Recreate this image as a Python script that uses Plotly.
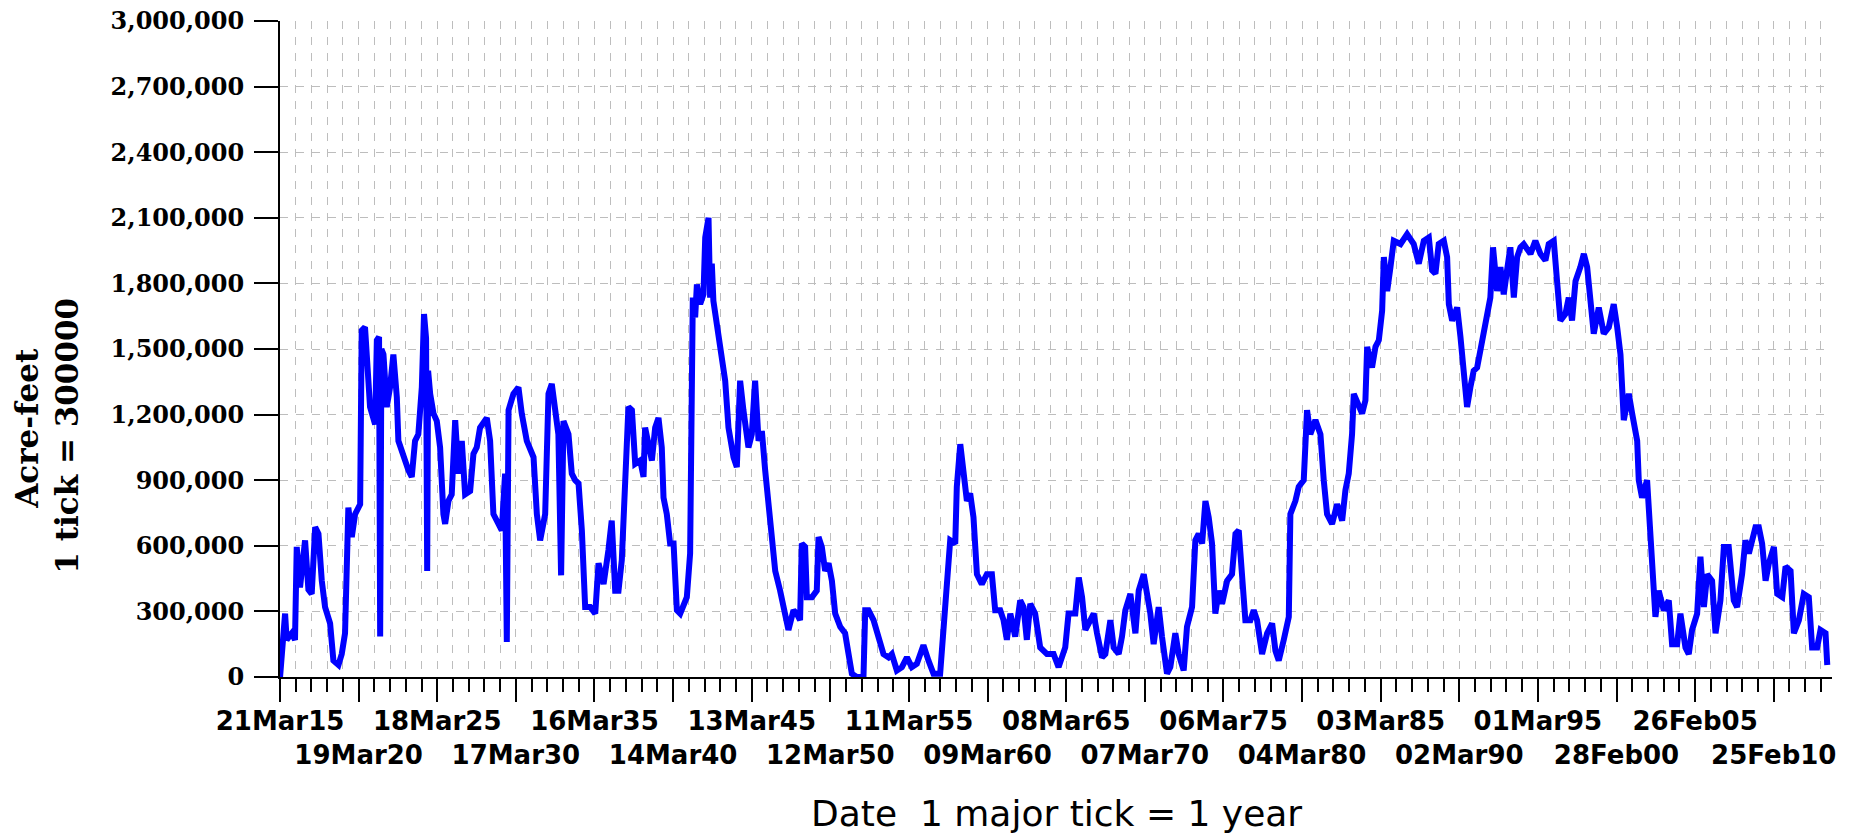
import datetime as dt
import plotly.graph_objects as go

# ---- data (decimal year, storage in thousand acre-feet) ----
years = [
    1915.22, 1915.54, 1915.64, 1915.96, 1916.17, 1916.28, 1916.49, 1916.81, 1917.02, 1917.23,
    1917.45, 1917.66, 1917.87, 1918.08, 1918.40, 1918.61, 1918.93, 1919.14, 1919.35, 1919.46,
    1919.56, 1919.78, 1919.99, 1920.31, 1920.41, 1920.62, 1920.84, 1920.94, 1921.26, 1921.37,
    1921.51, 1921.58, 1921.66, 1921.79, 1922.00, 1922.21, 1922.42, 1922.64, 1922.74, 1923.06,
    1923.38, 1923.59, 1923.80, 1924.01, 1924.23, 1924.37, 1924.50, 1924.57, 1924.63, 1924.76,
    1924.97, 1925.18, 1925.39, 1925.60, 1925.71, 1925.92, 1926.13, 1926.35, 1926.56, 1926.77,
    1926.98, 1927.30, 1927.51, 1927.72, 1927.93, 1928.36, 1928.57, 1928.78, 1929.10, 1929.31,
    1929.52, 1929.63, 1929.74, 1930.05, 1930.37, 1930.58, 1930.90, 1931.33, 1931.54, 1931.75,
    1932.07, 1932.28, 1932.49, 1932.70, 1932.91, 1933.08, 1933.23, 1933.55, 1933.76, 1933.97,
    1934.19, 1934.40, 1934.61, 1934.93, 1935.25, 1935.46, 1935.78, 1936.09, 1936.30, 1936.52,
    1936.73, 1936.94, 1937.15, 1937.36, 1937.58, 1937.79, 1938.11, 1938.32, 1938.42, 1938.64,
    1938.85, 1939.06, 1939.27, 1939.48, 1939.59, 1939.80, 1940.01, 1940.23, 1940.44, 1940.65,
    1940.86, 1941.07, 1941.28, 1941.39, 1941.45, 1941.60, 1941.71, 1941.92, 1942.13, 1942.24,
    1942.45, 1942.55, 1942.66, 1942.76, 1942.98, 1943.19, 1943.51, 1943.72, 1944.04, 1944.25,
    1944.46, 1944.67, 1944.99, 1945.20, 1945.41, 1945.63, 1945.84, 1946.05, 1946.26, 1946.47,
    1946.69, 1947.00, 1947.32, 1947.53, 1947.85, 1948.06, 1948.27, 1948.38, 1948.59, 1948.70,
    1949.02, 1949.33, 1949.44, 1949.65, 1949.86, 1950.08, 1950.29, 1950.50, 1950.82, 1951.13,
    1951.35, 1951.56, 1951.88, 1952.30, 1952.41, 1952.62, 1952.94, 1953.25, 1953.57, 1953.89,
    1954.10, 1954.42, 1954.74, 1955.06, 1955.37, 1955.69, 1956.11, 1956.43, 1956.75, 1957.17,
    1957.39, 1957.60, 1957.81, 1958.13, 1958.23, 1958.45, 1958.66, 1958.87, 1959.08, 1959.29,
    1959.51, 1959.82, 1960.14, 1960.46, 1960.67, 1960.99, 1961.20, 1961.41, 1961.63, 1961.94,
    1962.26, 1962.47, 1962.68, 1962.90, 1963.21, 1963.53, 1963.96, 1964.38, 1964.70, 1965.12,
    1965.33, 1965.76, 1965.98, 1966.19, 1966.40, 1966.72, 1966.93, 1967.14, 1967.46, 1967.67,
    1967.99, 1968.20, 1968.52, 1968.73, 1968.94, 1969.26, 1969.58, 1969.79, 1970.11, 1970.32,
    1970.53, 1970.74, 1971.06, 1971.27, 1971.59, 1971.80, 1972.12, 1972.33, 1972.65, 1972.86,
    1973.18, 1973.39, 1973.60, 1973.82, 1974.03, 1974.24, 1974.45, 1974.66, 1974.88, 1975.09,
    1975.41, 1975.72, 1975.94, 1976.15, 1976.36, 1976.57, 1976.89, 1977.10, 1977.31, 1977.63,
    1977.95, 1978.27, 1978.48, 1978.69, 1979.01, 1979.33, 1979.43, 1979.75, 1979.96, 1980.28,
    1980.49, 1980.70, 1981.02, 1981.34, 1981.55, 1981.76, 1982.08, 1982.40, 1982.72, 1982.93,
    1983.14, 1983.35, 1983.46, 1983.78, 1983.99, 1984.20, 1984.31, 1984.62, 1984.84, 1985.05,
    1985.26, 1985.37, 1985.58, 1985.79, 1986.00, 1986.43, 1986.85, 1987.27, 1987.59, 1987.91,
    1988.23, 1988.44, 1988.65, 1988.86, 1989.18, 1989.39, 1989.50, 1989.71, 1990.03, 1990.24,
    1990.45, 1990.66, 1990.87, 1991.08, 1991.30, 1991.61, 1991.93, 1992.14, 1992.31, 1992.57,
    1992.78, 1992.99, 1993.20, 1993.41, 1993.63, 1993.84, 1994.05, 1994.26, 1994.69, 1995.00,
    1995.32, 1995.64, 1995.85, 1996.17, 1996.38, 1996.59, 1996.91, 1997.12, 1997.33, 1997.55,
    1997.86, 1998.08, 1998.29, 1998.50, 1998.71, 1999.03, 1999.35, 1999.67, 1999.98, 2000.20,
    2000.41, 2000.62, 2000.94, 2001.15, 2001.47, 2001.57, 2001.78, 2002.10, 2002.31, 2002.42,
    2002.63, 2002.84, 2003.16, 2003.48, 2003.69, 2004.01, 2004.22, 2004.54, 2004.75, 2004.96,
    2005.28, 2005.49, 2005.71, 2005.92, 2006.23, 2006.45, 2006.76, 2006.98, 2007.29, 2007.61,
    2007.82, 2008.14, 2008.35, 2008.57, 2008.78, 2008.99, 2009.20, 2009.41, 2009.63, 2009.84,
    2010.16, 2010.37, 2010.69, 2010.90, 2011.22, 2011.43, 2011.75, 2012.06, 2012.38, 2012.59,
    2012.91, 2013.12, 2013.44, 2013.55,
]

storage_kaf = [
    0, 290, 170, 200, 170, 595, 410, 625, 400, 380,
    685, 655, 440, 320, 245, 75, 55, 105, 200, 670,
    775, 640, 745, 790, 1585, 1600, 1385, 1235, 1155, 1540,
    1555, 185, 1500, 1475, 1235, 1325, 1475, 1280, 1080, 1005,
    945, 915, 1080, 1110, 1325, 1660, 1550, 485, 1400, 1295,
    1205, 1170, 1050, 745, 700, 805, 835, 1175, 930, 1080,
    835, 850, 1020, 1050, 1140, 1185, 1080, 745, 700, 670,
    930, 160, 1220, 1295, 1325, 1205, 1080, 1005, 745, 625,
    745, 1295, 1340, 1205, 1110, 465, 1170, 1110, 930, 900,
    885, 670, 320, 320, 290, 520, 425, 580, 715, 395,
    395, 535, 840, 1235, 1220, 975, 990, 915, 1140, 1050,
    990, 1140, 1185, 1050, 820, 745, 610, 610, 305, 290,
    320, 365, 565, 1630, 1735, 1645, 1795, 1705, 1750, 2010,
    2100, 1735, 1890, 1720, 1615, 1510, 1355, 1140, 1005, 960,
    1355, 1220, 1050, 1110, 1355, 1080, 1125, 945, 775, 595,
    485, 395, 290, 215, 305, 290, 260, 610, 595, 365,
    365, 395, 640, 595, 485, 520, 440, 290, 230, 200,
    105, 15, 0, 0, 305, 305, 260, 170, 105, 90,
    105, 30, 45, 90, 45, 60, 145, 75, 15, 15,
    200, 440, 625, 610, 870, 1065, 900, 805, 840, 730,
    470, 425, 470, 470, 305, 305, 260, 170, 290, 185,
    350, 320, 170, 335, 290, 135, 105, 105, 45, 135,
    290, 290, 455, 365, 215, 260, 290, 200, 90, 105,
    260, 135, 105, 185, 305, 380, 200, 395, 470, 380,
    290, 150, 320, 185, 15, 45, 200, 105, 30, 230,
    320, 625, 655, 610, 805, 730, 610, 290, 395, 335,
    440, 470, 655, 670, 470, 260, 260, 305, 260, 105,
    200, 245, 120, 75, 170, 275, 745, 805, 870, 900,
    1220, 1110, 1175, 1110, 900, 745, 700, 790, 715, 855,
    930, 1110, 1295, 1235, 1205, 1265, 1510, 1415, 1510, 1540,
    1675, 1920, 1765, 1875, 1995, 1980, 2025, 1980, 1890, 1995,
    2010, 1860, 1845, 1980, 1995, 1920, 1705, 1630, 1690, 1555,
    1355, 1235, 1325, 1400, 1415, 1525, 1630, 1735, 1965, 1765,
    1875, 1750, 1860, 1965, 1735, 1920, 1965, 1980, 1935, 1995,
    1935, 1905, 1980, 1995, 1810, 1630, 1660, 1735, 1630, 1810,
    1875, 1935, 1875, 1690, 1570, 1690, 1570, 1600, 1705, 1600,
    1475, 1175, 1295, 1205, 1080, 900, 820, 900, 670, 520,
    275, 395, 305, 350, 150, 150, 290, 135, 105, 215,
    290, 550, 320, 470, 440, 200, 350, 595, 595, 350,
    320, 470, 625, 565, 625, 685, 685, 610, 440, 520,
    595, 380, 365, 505, 485, 200, 260, 380, 365, 135,
    135, 215, 200, 55,
]

tick_dates = [
    "1915-03-21", "1920-03-19", "1925-03-18", "1930-03-17", "1935-03-16",
    "1940-03-14", "1945-03-13", "1950-03-12", "1955-03-11", "1960-03-09",
    "1965-03-08", "1970-03-07", "1975-03-06", "1980-03-04", "1985-03-03",
    "1990-03-02", "1995-03-01", "2000-02-28", "2005-02-26", "2010-02-25",
]
tick_labels = [
    "21Mar15", "19Mar20", "18Mar25", "17Mar30", "16Mar35",
    "14Mar40", "13Mar45", "12Mar50", "11Mar55", "09Mar60",
    "08Mar65", "07Mar70", "06Mar75", "04Mar80", "03Mar85",
    "02Mar90", "01Mar95", "28Feb00", "26Feb05", "25Feb10",
]
y_ticks = [0, 300000, 600000, 900000, 1200000, 1500000, 1800000,
           2100000, 2400000, 2700000, 3000000]


def to_date(y):
    base = dt.datetime(int(y), 1, 1)
    return base + dt.timedelta(days=(y - int(y)) * 365.25)


x_dates = [to_date(y) for y in years]
y_vals = [v * 1000 for v in storage_kaf]

# stagger labels over two rows
ticktext = [lab if i % 2 == 0 else "<br>" + lab for i, lab in enumerate(tick_labels)]

fig = go.Figure()
fig.add_trace(go.Scatter(
    x=x_dates, y=y_vals, mode="lines",
    line=dict(color="#0000ff", width=6),
    hoverinfo="skip", showlegend=False,
))

grid_col = "#bdbdbd"
# page body has an 8px default margin; margins below compensate for it
fig.update_layout(
    width=1852, height=833,
    margin=dict(l=272, r=28, t=13, b=164, autoexpand=False),
    paper_bgcolor="white", plot_bgcolor="white",
    showlegend=False,
    xaxis=dict(
        type="date",
        range=["1915-03-21", "2013-11-08"],
        tickmode="array", tickvals=tick_dates, ticktext=ticktext,
        tickangle=0, automargin=False, ticklabeloverflow="allow",
        ticks="outside", ticklen=23, tickwidth=2, tickcolor="black",
        showline=True, linecolor="black", linewidth=2,
        showgrid=True, gridcolor=grid_col, gridwidth=1, griddash="8px,8px",
        tickfont=dict(family="DejaVu Sans", size=26, color="black", weight="bold"),
        ticklabelstandoff=-3,
        zeroline=False,
        minor=dict(
            tick0="1915-03-21", dtick=365 * 86400000,
            ticks="outside", ticklen=13, tickwidth=2, tickcolor="black",
            showgrid=True, gridcolor=grid_col, gridwidth=1, griddash="8px,8px",
        ),
    ),
    yaxis=dict(
        range=[0, 3000000], automargin=False, ticklabeloverflow="allow",
        tickmode="array", tickvals=y_ticks, tickformat=",d",
        ticks="outside", ticklen=24, tickwidth=2, tickcolor="black",
        showline=True, linecolor="black", linewidth=2,
        showgrid=True, gridcolor=grid_col, gridwidth=1, griddash="8px,8px",
        tickfont=dict(family="DejaVu Serif", size=24, color="black", weight="bold"),
        ticklabelstandoff=5,
        zeroline=False,
    ),
)

# axis titles (positions relative to the plot area)
plot_top, plot_h, plot_left = 13.0, 656.0, 272.0
fig.add_annotation(
    text="Date\u00a0 1 major tick = 1 year",
    xref="paper", yref="paper", x=0.5, y=(plot_top + plot_h - (813 - 8)) / plot_h,
    xanchor="center", yanchor="middle", showarrow=False,
    font=dict(family="DejaVu Sans", size=36, color="black"),
)
fig.add_annotation(
    text="Acre-feet",
    xref="paper", yref="paper", x=0, xshift=(26.7 - 8) - plot_left,
    y=(plot_top + plot_h - (428 - 8)) / plot_h, xanchor="center", yanchor="middle",
    textangle=-90, showarrow=False,
    font=dict(family="DejaVu Serif", size=31, color="black", weight="bold"),
)
fig.add_annotation(
    text="1 tick = 300000",
    xref="paper", yref="paper", x=0, xshift=(66.7 - 8) - plot_left,
    y=(plot_top + plot_h - (436 - 8)) / plot_h, xanchor="center", yanchor="middle",
    textangle=-90, showarrow=False,
    font=dict(family="DejaVu Serif", size=31, color="black", weight="bold"),
)

fig.write_html("out.html")
